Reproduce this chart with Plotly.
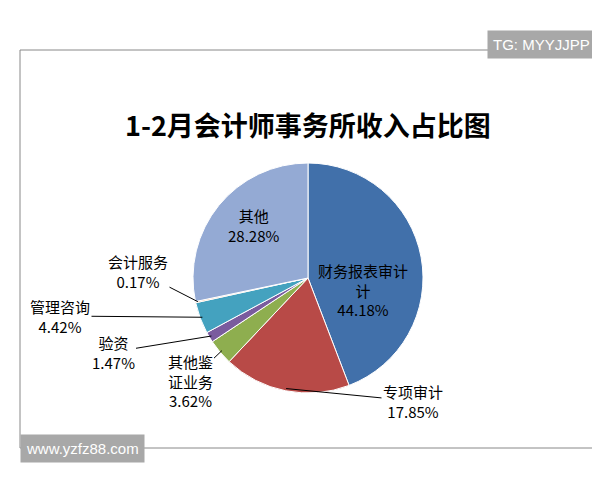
import math
import plotly.graph_objects as go

labels = ["财务报表审计", "专项审计", "其他鉴证业务", "验资", "管理咨询", "会计服务", "其他"]
values = [44.18, 17.85, 3.62, 1.47, 4.42, 0.17, 28.28]
colors = ["#4170AA", "#B84A47", "#8EAE4F", "#7A5C9E", "#44A2BF", "#EF8C3B", "#94AAD4"]
label_text = ["财务报表审计<br>计<br>44.18%", "专项审计<br>17.85%", "其他鉴<br>证业务<br>3.62%",
              "验资<br>1.47%", "管理咨询<br>4.42%", "会计服务<br>0.17%", "其他<br>28.28%"]
# label centres in pixels (x, y from top)
label_px = [(355, 282), (405, 393), (182, 373), (105, 344), (52, 308), (130, 263), (245, 218)]
inside = [True, False, False, False, False, False, True]

W, H = 600, 480
cx, cy, r = 300, 270, 115

fig = go.Figure(go.Pie(
    labels=labels, values=values, sort=False, direction="clockwise", rotation=0,
    marker=dict(colors=colors, line=dict(color="white", width=1)),
    textinfo="none", hoverinfo="label+percent", showlegend=False,
    domain=dict(x=[(cx - r) / W, (cx + r) / W], y=[1 - (cy + r) / H, 1 - (cy - r) / H]),
))

total = sum(values)
cum = 0
font = dict(family="Noto Sans CJK SC", size=15, color="black")
for v, t, (lx, ly), ins in zip(values, label_text, label_px, inside):
    mid = (cum + v / 2) / total * 2 * math.pi
    cum += v
    if ins:
        fig.add_annotation(x=lx / W, y=1 - ly / H, xref="paper", yref="paper",
                           text=t, showarrow=False, font=font)
    else:
        hx = cx + r * 0.98 * math.sin(mid)
        hy = cy - r * 0.98 * math.cos(mid)
        fig.add_annotation(x=hx / W, y=1 - hy / H, xref="paper", yref="paper",
                           ax=lx - hx, ay=ly - hy, text=t, showarrow=True,
                           arrowhead=0, arrowwidth=1, arrowcolor="black", font=font)

fig.add_annotation(x=0.5, y=1 - 95 / H, xref="paper", yref="paper", showarrow=False,
                   text="<b>1-2月会计师事务所收入占比图</b>",
                   font=dict(family="Noto Sans CJK SC", size=27, color="black"))
fig.add_annotation(x=1 - 12 / W, y=1 - 22 / H, xref="paper", yref="paper", showarrow=False,
                   xanchor="right", text="TG: MYYJJPP", bgcolor="#A8A8A8",
                   borderpad=5, font=dict(family="Liberation Sans", size=15, color="white"))
fig.add_annotation(x=12 / W, y=1 - 455 / H, xref="paper", yref="paper", showarrow=False,
                   xanchor="left", text="www.yzfz88.com", bgcolor="#A8A8A8",
                   borderpad=5, font=dict(family="Liberation Sans", size=15, color="white"))

fig.add_shape(type="rect", xref="paper", yref="paper", x0=12 / W, x1=588 / W,
              y0=1 - 440 / H, y1=1 - 42 / H, line=dict(color="#888888", width=1))

fig.update_layout(margin=dict(l=0, r=0, t=0, b=0),
                  paper_bgcolor="white", plot_bgcolor="white")
fig.write_html("out.html", default_width="100vw", default_height="100vh",
               full_html=True)
